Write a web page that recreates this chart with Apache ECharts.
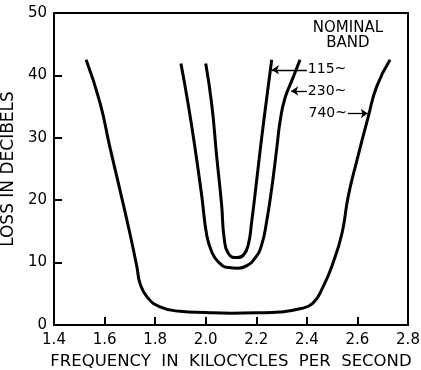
<!DOCTYPE html>
<html>
<head>
<meta charset="utf-8">
<script src="https://cdn.jsdelivr.net/npm/echarts@6/dist/echarts.min.js"></script>
<style>html,body{margin:0;padding:0;background:#fff;}#chart{width:421px;height:370px;}</style>
</head>
<body>
<div id="chart"></div>
<script>
// Data
var freq740 = [1.527,1.582,1.621,1.661,1.700,1.728,1.740,1.768,1.819,1.898,2.000,2.100,2.200,2.294,2.373,2.424,2.464,2.503,2.539,2.563,2.598,2.643,2.676,2.729];
var loss740 = [42.5,35.6,28.5,21.6,14.7,9.3,6.7,4.5,2.9,2.2,2.0,1.9,1.95,2.1,2.6,3.5,6.1,9.9,14.7,20.5,26.4,33.4,38.2,42.5];
var freq230 = [1.902,1.931,1.958,1.984,2.004,2.024,2.050,2.089,2.129,2.162,2.195,2.221,2.241,2.261,2.281,2.294,2.313,2.345,2.373];
var loss230 = [41.9,35.3,28.3,20.8,14.4,11.7,10.1,9.2,9.1,9.5,10.7,12.8,16.6,21.9,28.3,32.6,36.3,39.6,42.5];
var freq115 = [2.000,2.024,2.043,2.063,2.073,2.089,2.122,2.149,2.168,2.182,2.201,2.221,2.241,2.261];
var loss115 = [41.9,35.3,27.2,19.2,13.9,11.5,10.8,11.2,12.8,16.6,23.0,29.9,36.3,42.5];
var seriesNames = ['115~','230~','740~'];
var xTitle = 'FREQUENCY  IN  KILOCYCLES  PER  SECOND';
var yTitle = 'LOSS IN DECIBELS';
var bandTitle = 'NOMINAL\nBAND';

function zip(xs, ys){ return xs.map(function(x,i){ return [x, ys[i]]; }); }

var FONT = '"DejaVu Sans", sans-serif';
var chart = echarts.init(document.getElementById('chart'), null, {renderer:'canvas'});

function arrowLine(from, to){
  return {
    silent: true,
    symbol: ['none','arrow'],
    symbolSize: 7,
    label: {show:false},
    lineStyle: {color:'#000', width:1.3, type:'solid'},
    emphasis: {disabled:true},
    data: [[{coord: from}, {coord: to}]]
  };
}
function textPoint(coord, text, pos){
  return {
    silent: true,
    symbol: 'circle',
    symbolSize: 0,
    itemStyle: {color:'rgba(0,0,0,0)'},
    data: [{coord: coord, label: {show:true, position:pos, distance:1, formatter:text, color:'#000', fontFamily:FONT, fontSize:14}}]
  };
}

var lineBase = {
  type:'line', smooth:0.5, smoothMonotone:'none', showSymbol:false, symbol:'none',
  lineStyle:{color:'#000', width:3}, itemStyle:{color:'#000'},
  animation:false, silent:true, clip:false
};

chart.setOption({
  backgroundColor:'#fff',
  animation:false,
  grid:{left:54, top:13, right:13, bottom:45, containLabel:false, outerBoundsMode:'none',
        show:true, borderColor:'#000', borderWidth:2},
  xAxis:{
    type:'value', min:1.4, max:2.8, interval:0.2,
    name:xTitle, nameLocation:'middle', nameGap:25,
    nameTextStyle:{color:'#000', fontFamily:FONT, fontSize:16.5},
    axisLine:{show:true, lineStyle:{color:'#000', width:2}},
    axisTick:{show:true, inside:true, length:8, lineStyle:{color:'#000', width:2}},
    axisLabel:{color:'#000', fontFamily:FONT, fontSize:15, margin:8,
      formatter:function(v){ return v.toFixed(1); }},
    splitLine:{show:false}
  },
  yAxis:{
    type:'value', min:0, max:50, interval:10,
    name:yTitle, nameLocation:'middle', nameGap:32,
    nameTextStyle:{color:'#000', fontFamily:FONT, fontSize:17},
    axisLine:{show:true, lineStyle:{color:'#000', width:2}},
    axisTick:{show:true, inside:true, length:8, lineStyle:{color:'#000', width:2}},
    axisLabel:{color:'#000', fontFamily:FONT, fontSize:15, margin:7},
    splitLine:{show:false}
  },
  series:[
    Object.assign({}, lineBase, {
      name:seriesNames[0], data:zip(freq115, loss115),
      markLine: arrowLine([2.400, 40.9], [2.262, 40.9]),
      markPoint: textPoint([2.400, 40.9], seriesNames[0], 'right')
    }),
    Object.assign({}, lineBase, {
      name:seriesNames[1], data:zip(freq230, loss230),
      markLine: arrowLine([2.400, 37.5], [2.338, 37.5]),
      markPoint: textPoint([2.400, 37.5], seriesNames[1], 'right')
    }),
    Object.assign({}, lineBase, {
      name:seriesNames[2], data:zip(freq740, loss740),
      markLine: arrowLine([2.5625, 33.9], [2.641, 33.9]),
      markPoint: {
        silent:true, symbol:'circle', symbolSize:0, itemStyle:{color:'rgba(0,0,0,0)'},
        data:[
          {coord:[2.5625, 33.9], label:{show:true, position:'left', distance:1, formatter:seriesNames[2], color:'#000', fontFamily:FONT, fontSize:14}},
          {coord:[2.5625, 46.4], label:{show:true, position:'inside', formatter:bandTitle, color:'#000', fontFamily:FONT, fontSize:15, lineHeight:15, align:'center'}}
        ]
      }
    })
  ]
});
</script>
</body>
</html>
